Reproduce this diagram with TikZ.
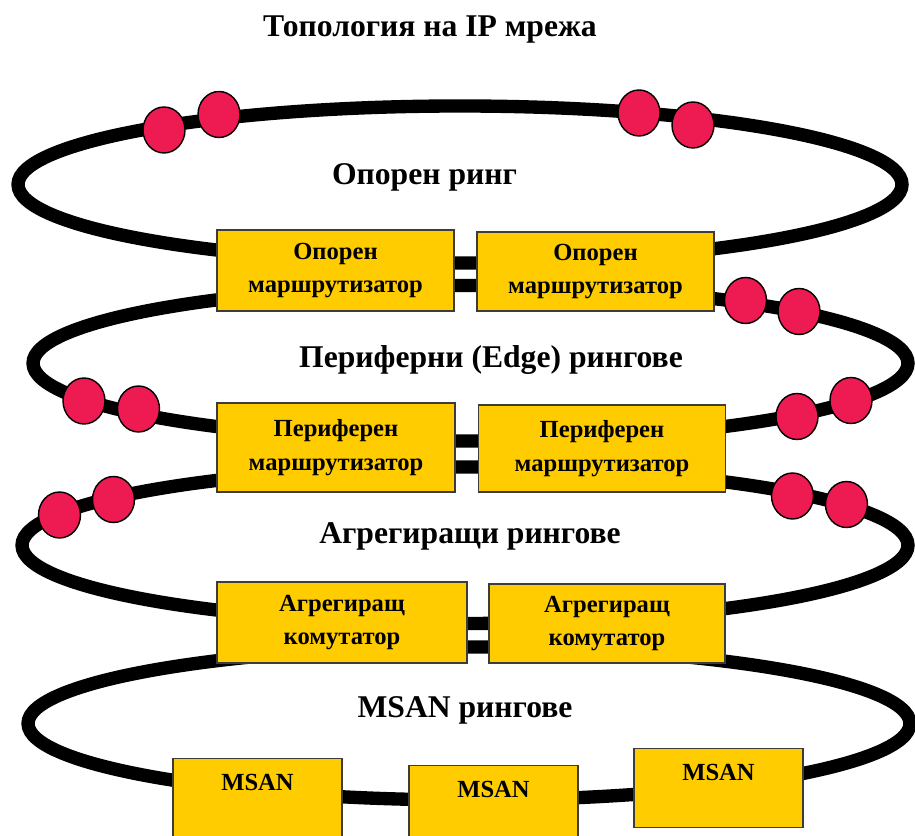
\documentclass[tikz,border=0pt]{standalone}
\usepackage{fontspec}
\setmainfont{Liberation Serif}
\usepackage{tikz}
\usetikzlibrary{shapes.geometric}
\definecolor{mydark}{RGB}{60,60,60}
\definecolor{myyellow}{RGB}{255,204,0}
\definecolor{myred}{RGB}{238,26,82}
\tikzset{
  block/.style={rectangle, draw=mydark, fill=myyellow, align=center,
    font=\fontsize{14}{19}\selectfont\bfseries, line width=0.6pt, inner sep=0pt},
  msanbox/.style={block, minimum width=3.38cm, text height=0.64cm, text depth=0.94cm},
  ring/.style={line width=7.6pt, color=black},
  dot/.style={ellipse, draw=black, fill=myred, minimum width=0.84cm,
    minimum height=0.92cm, line width=0.8pt, inner sep=0pt},
  ringlabel/.style={font=\fontsize{18}{22}\selectfont\bfseries, anchor=base}
}

\begin{document}
\begin{tikzpicture}
    \useasboundingbox (0,0) rectangle (18.3,16.72);
    \clip (0,0) rectangle (18.3,16.72);

    % Title
    \node[ringlabel] (title) at (8.6,15.98) {Топология на IP мрежа};

    % Rings
    \draw[ring] (9.2,13.03) ellipse [x radius=8.84, y radius=1.57];
    \draw[ring] (9.41,9.455) ellipse [x radius=8.75, y radius=1.555];
    \draw[ring] (9.3,5.815) ellipse [x radius=8.86, y radius=1.565];
    \draw[ring] (9.38,2.25) ellipse [x radius=8.82, y radius=1.53];

    % Ring labels
    \node[ringlabel] (corelbl) at (8.49,13.02) {Опорен ринг};
    \node[ringlabel] (edgelbl) at (9.82,9.36) {Периферни (Edge) рингове};
    \node[ringlabel] (agglbl) at (9.4,5.84) {Агрегиращи рингове};
    \node[ringlabel] (msanlbl) at (9.3,2.36) {MSAN рингове};

    % Nodes on the core ring
    \node[dot] (c1) at (3.28,14.12) {};
    \node[dot] (c2) at (4.38,14.43) {};
    \node[dot] (c3) at (12.78,14.46) {};
    \node[dot] (c4) at (13.86,14.22) {};

    % Nodes on the edge rings
    \node[dot] (e1) at (14.91,10.71) {};
    \node[dot] (e2) at (15.98,10.49) {};
    \node[dot] (e3) at (1.68,8.70) {};
    \node[dot] (e4) at (2.77,8.54) {};
    \node[dot] (e5) at (15.94,8.39) {};
    \node[dot] (e6) at (17.02,8.71) {};

    % Nodes on the aggregation rings
    \node[dot] (a1) at (1.19,6.42) {};
    \node[dot] (a2) at (2.27,6.73) {};
    \node[dot] (a3) at (15.85,6.80) {};
    \node[dot] (a4) at (16.93,6.63) {};

    % Core routers
    \node[block, minimum width=4.74cm, minimum height=1.62cm] (core1) at (6.71,11.31) {Опорен\\маршрутизатор};
    \node[block, minimum width=4.74cm, minimum height=1.58cm] (core2) at (11.91,11.29) {Опорен\\маршрутизатор};

    % Edge routers
    \node[block, minimum width=4.76cm, minimum height=1.78cm] (edge1) at (6.72,7.77) {Периферен\\маршрутизатор};
    \node[block, minimum width=4.93cm, minimum height=1.74cm] (edge2) at (12.04,7.75) {Периферен\\маршрутизатор};

    % Aggregation switches
    \node[block, minimum width=5.0cm, minimum height=1.62cm] (agg1) at (6.84,4.27) {Агрегиращ\\комутатор};
    \node[block, minimum width=4.72cm, minimum height=1.58cm] (agg2) at (12.14,4.25) {Агрегиращ\\комутатор};

    % MSAN
    \node[msanbox, anchor=north] (msan1) at (5.15,1.56) {MSAN};
    \node[msanbox, anchor=north] (msan2) at (9.87,1.42) {MSAN};
    \node[msanbox, anchor=north] (msan3) at (14.37,1.76) {MSAN};
\end{tikzpicture}
\end{document}
